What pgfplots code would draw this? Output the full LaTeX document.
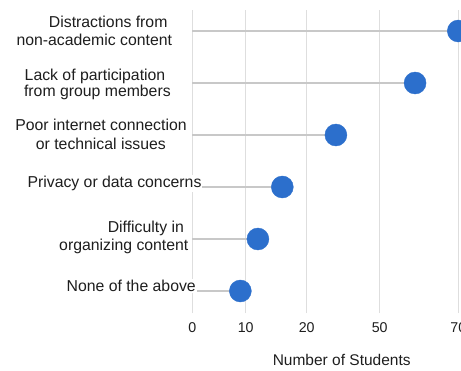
\documentclass[border=0pt]{standalone}
\usepackage{pgfplots}
\pgfplotsset{compat=1.18}
\usepackage{pgfplotstable}
\usepackage{fontspec}
\setmainfont{Liberation Sans}

\definecolor{dotblue}{RGB}{44,111,204}
\definecolor{stemgray}{RGB}{200,200,200}
\definecolor{gridgray}{RGB}{222,222,222}
\definecolor{txt}{RGB}{30,30,30}

% row (0 = bottom) and number of students
\pgfplotstableread{
row students
5 70
4 59
3 32
2 16
1 12
0 9
}\challenges

\newcommand{\lbl}{\fontsize{15.8}{18}\selectfont}

\begin{document}
\begin{tikzpicture}[x=1pt,y=1pt]
\begin{axis}[
  at={(192.2pt,57pt)}, anchor=south west,
  scale only axis, width=266.1pt, height=303pt,
  % piecewise scale between the labelled ticks 0, 10, 20, 50, 70
  x coord trafo/.code={\pgfmathparse{#1<10 ? #1*5.35 : (#1<20 ? 53.5+(#1-10)*6.1 : (#1<50 ? 114.5+(#1-20)*73/30 : 187.5+(#1-50)*3.93))}},
  xmin=0, xmax=70, ymin=-0.423, ymax=5.404,
  xtick={0,10,20,50,70}, xticklabels={0,10,20,50,70},
  ytick=\empty,
  xmajorgrids, grid style={gridgray, line width=1pt},
  axis line style={draw=none},
  major tick length=0pt,
  xticklabel style={font=\fontsize{14.2}{16}\selectfont, text=txt, yshift=-6pt},
  clip=false,
]
\addplot[xcomb, draw=stemgray, line width=1.8pt] table[x=students, y=row] {\challenges};
\addplot[only marks, mark=*, mark size=11pt, mark options={fill=dotblue, draw=dotblue}] table[x=students, y=row] {\challenges};
\end{axis}

\begin{scope}[every node/.style={font=\lbl, text=txt, fill=white, inner sep=1pt, anchor=base}]
\node at (108.2,342.7) {Distractions from};
\node at (94.3,324.3) {non-academic content};
\node at (95.0,289.3) {Lack of participation};
\node at (97.4,273.3) {from group members};
\node at (101.0,239.0) {Poor internet connection};
\node at (100.9,220.7) {or technical issues};
\node at (114.5,182.3) {Privacy or data concerns};
\node at (145.8,137.7) {Difficulty in};
\node at (123.8,119.3) {organizing content};
\node at (131.2,78.3) {None of the above};
\end{scope}

\node[font=\fontsize{15.5}{18}\selectfont, text=txt, anchor=base] at (341.7,5) {Number of Students};

\pgfresetboundingbox
\useasboundingbox (0,0) rectangle (461,370);
\end{tikzpicture}
\end{document}
